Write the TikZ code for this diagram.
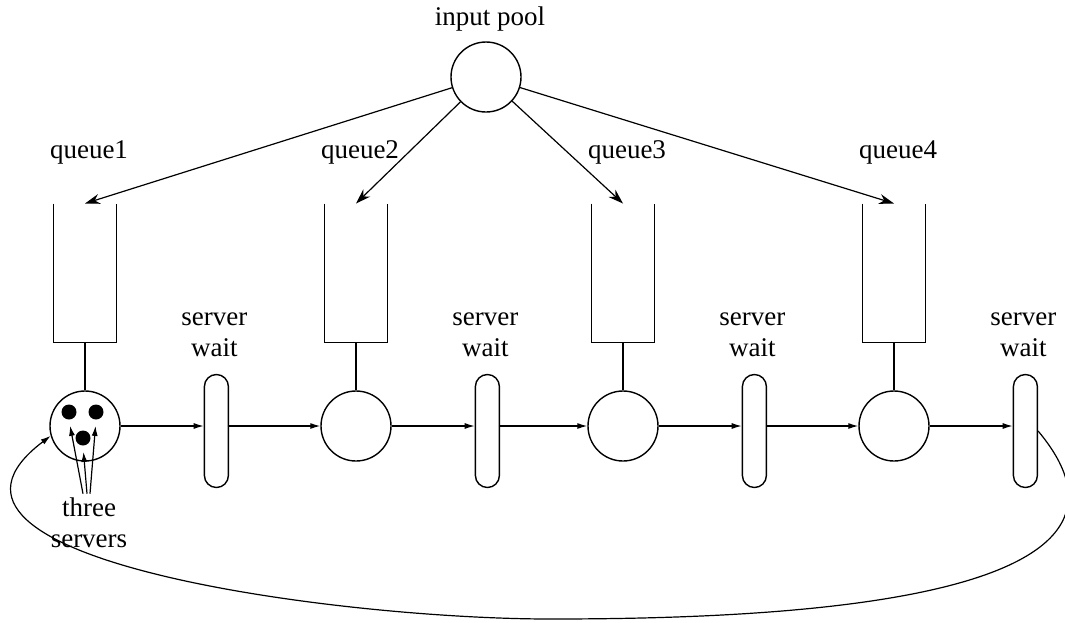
\documentclass[tikz,border=0pt]{standalone}
\usepackage{fontspec}
\setmainfont{Liberation Serif}
\usetikzlibrary{positioning, arrows.meta, calc}

\begin{document}
\begin{tikzpicture}[
  x=0.5pt, y=-0.5pt,
  every node/.style={font=\fontsize{13.5}{15.5}\selectfont},
  place/.style={draw, circle, minimum size=35pt, inner sep=0pt, line width=0.7pt},
  queue/.style={minimum width=31pt, minimum height=69pt, inner sep=0pt},
  server/.style={draw, rounded corners=6pt, minimum width=12pt, minimum height=56.5pt,
                 inner sep=0pt, line width=0.7pt},
  token/.style={circle, fill, minimum size=7.5pt, inner sep=0pt},
  lbl/.style={align=center, inner sep=1pt},
  arr/.style={-{Stealth[length=7.5pt, width=5pt]}, line width=0.6pt},
  flow/.style={-{Latex[length=5pt, width=3pt]}, line width=0.6pt}
]
\useasboundingbox (0,0) rectangle (1065,622);

% input pool
\node[place] (pool) at (486,77) {};
\node[lbl, above=4pt of pool, xshift=2pt] (poollbl) {input pool};

% stations: server place, queue above it, server-wait place right of it
\foreach \i/\x in {1/85, 2/356, 3/623, 4/894} {
  \node[place] (c\i) at (\x,426) {};
  \node[queue, above=24pt of c\i] (q\i) {};
  \node[server, right=41.5pt of c\i, yshift=-2.5pt] (w\i) {};
  \node[lbl, above=18.5pt of q\i, xshift=2pt] (ql\i) {queue\i};
  \node[lbl, above=7.5pt of w\i, xshift=-1pt] (wl\i) {server\\wait};
}

% the three servers of station 1
\node[token] (s1) at ($(c1)+(-16,-14)$) {};
\node[token] (s2) at ($(c1)+(11,-14)$) {};
\node[token] (s3) at ($(c1)+(-2,12)$) {};
\node[lbl, below=17pt of c1, xshift=2pt] (srv) {three\\servers};

% queues (open at the top)
\foreach \i in {1,...,4} {
  \draw[line width=0.7pt] (q\i.north west) -- (q\i.south west)
    -- (q\i.south east) -- (q\i.north east);
  \draw[line width=0.6pt] (q\i.south) -- (c\i.north);
  \draw[arr] (pool) -- (q\i.north);
  \draw[flow] (c\i.east) -- (c\i.east -| w\i.west);
}
\foreach \i/\j in {1/2, 2/3, 3/4}
  \draw[flow] (w\i.east |- c\j.west) -- (c\j.west);

\foreach \s/\dx in {s1/-6, s3/-2, s2/1}
  \draw[flow, shorten >=3pt] ($(srv.north)+(\dx,-2)$) -- (\s.south);

% feedback loop
\coordinate (bot) at (550,619);
\draw[flow] (w4.east) to[out=-50, in=0, looseness=1.1] (bot)
  to[out=180, in=-143] (c1.196);
\end{tikzpicture}
\end{document}
